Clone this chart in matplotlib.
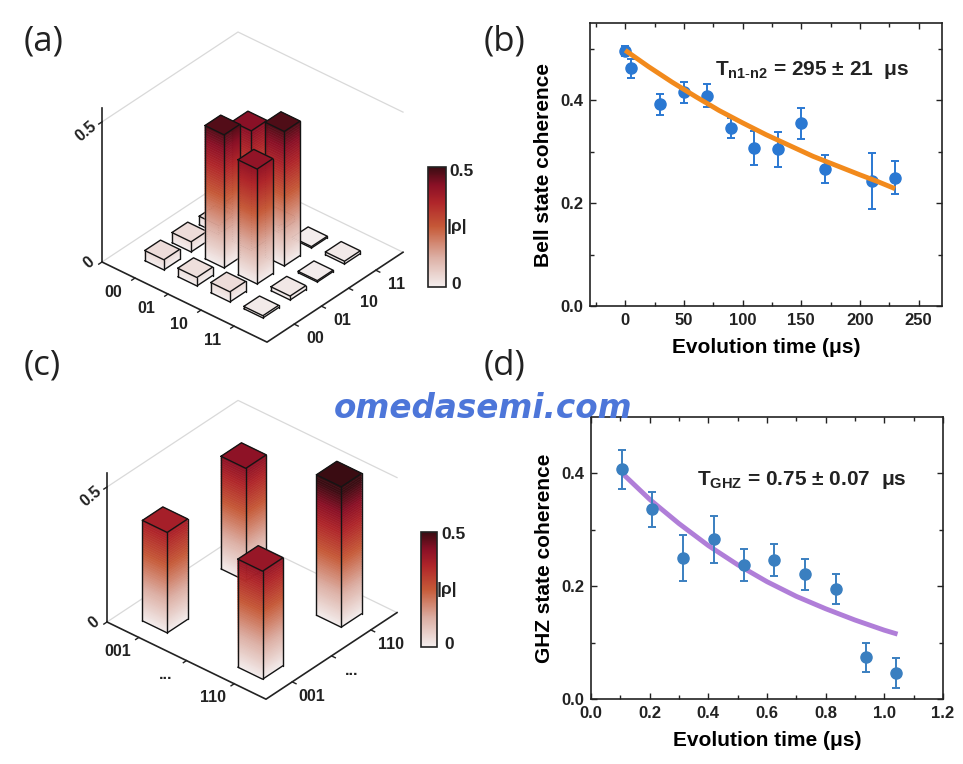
import numpy as np
import matplotlib
matplotlib.use("Agg")
import matplotlib.pyplot as plt
from matplotlib.colors import LinearSegmentedColormap, Normalize
from matplotlib.cm import ScalarMappable
from matplotlib.ticker import FormatStrFormatter
from mpl_toolkits.mplot3d import proj3d
from mpl_toolkits.mplot3d.art3d import Poly3DCollection

plt.rcParams['font.family'] = ['Liberation Sans', 'DejaVu Sans']
plt.rcParams['mathtext.fontset'] = 'custom'
plt.rcParams['mathtext.rm'] = 'Liberation Sans'
plt.rcParams['mathtext.bf'] = 'Liberation Sans:bold'
plt.rcParams['mathtext.it'] = 'Liberation Sans:italic'

W_PX, H_PX = 963, 764

# ---- (a) Bell state density matrix |rho| ----
bell_labels = ['00', '01', '10', '11']
bell_pos = [1, 2, 3, 4]
bell_rho = [
    [0.036, 0.036, 0.030, 0.020],
    [0.030, 0.475, 0.425, 0.020],
    [0.036, 0.410, 0.480, 0.005],
    [0.008, 0.014, 0.005, 0.010],
]

# ---- (c) GHZ state density matrix |rho| (corner elements only) ----
ghz_labels = ['001', '...', '110']
ghz_tick_pos = [1, 2.5, 4]
ghz_pos = [1, 4]
ghz_rho = [
    [0.372, 0.417],
    [0.400, 0.520],
]

# ---- (b) Bell state coherence vs time ----
bell_t = [0, 5, 30, 50, 70, 90, 110, 130, 150, 170, 210, 230]
bell_c = [0.495, 0.462, 0.392, 0.415, 0.409, 0.346, 0.307, 0.305, 0.355, 0.267, 0.243, 0.249]
bell_err = [0.010, 0.018, 0.020, 0.020, 0.022, 0.019, 0.033, 0.034, 0.030, 0.027, 0.055, 0.032]
bell_fit_t = [0, 20, 40, 60, 80, 100, 120, 140, 160, 180, 200, 215, 230]
bell_fit_c = [0.497, 0.465, 0.435, 0.407, 0.380, 0.356, 0.333, 0.312, 0.291, 0.273, 0.255, 0.242, 0.228]

# ---- (d) GHZ state coherence vs time ----
ghz_t = [0.107, 0.209, 0.314, 0.420, 0.523, 0.624, 0.728, 0.834, 0.936, 1.041]
ghz_c = [0.407, 0.336, 0.250, 0.283, 0.238, 0.246, 0.221, 0.195, 0.074, 0.046]
ghz_err = [0.035, 0.031, 0.041, 0.042, 0.028, 0.028, 0.028, 0.026, 0.026, 0.026]
ghz_fit_t = [0.107, 0.2, 0.3, 0.4, 0.5, 0.6, 0.7, 0.8, 0.9, 1.0, 1.045]
ghz_fit_c = [0.400, 0.354, 0.311, 0.272, 0.238, 0.208, 0.182, 0.160, 0.140, 0.122, 0.115]

rho_cmap = LinearSegmentedColormap.from_list('rho', [
    (0.00, '#f4eeee'),
    (0.25, '#dcaea3'),
    (0.50, '#c65a38'),
    (0.70, '#b0262a'),
    (0.85, '#8a1026'),
    (1.00, '#3a0c12'),
])
rho_norm = Normalize(0, 0.5)
INK = '#222222'

fig = plt.figure(figsize=(W_PX / 100, H_PX / 100), dpi=100)


def to_px(ax, x, y, z):
    xs, ys, _ = proj3d.proj_transform(x, y, z, ax.get_proj())
    X, Y = ax.transData.transform((xs, ys))
    return np.array([X, H_PX - Y])


def place_3d(ax, lim, tgt_left, tgt_right):
    """scale / move the square 3d axes so the floor corners land on the targets"""
    tgt_left = np.array(tgt_left, float)
    tgt_right = np.array(tgt_right, float)
    a = to_px(ax, 0, 0, 0)
    b = to_px(ax, lim, lim, 0)
    s = np.hypot(*(tgt_right - tgt_left)) / np.hypot(*(b - a))
    pos = ax.get_position()
    c = np.array([(pos.x0 + pos.width / 2) * W_PX, (1 - pos.y0 - pos.height / 2) * H_PX])
    side = pos.width * W_PX * s
    c_new = tgt_left - s * (a - c)
    ax.set_position([(c_new[0] - side / 2) / W_PX, 1 - (c_new[1] + side / 2) / H_PX,
                     side / W_PX, side / H_PX])


def draw_rho_bars(ax, pos, rho, width):
    heights = np.asarray(rho, dtype=float)
    pos = np.asarray(pos, dtype=float)
    xs, ys = np.meshgrid(pos, pos, indexing='ij')
    az = np.radians(ax.azim)
    depth = xs * np.cos(az) + ys * np.sin(az)
    order = np.argsort(depth, axis=None)
    for k, idx in enumerate(order):
        i, j = np.unravel_index(idx, heights.shape)
        x, y, h = pos[i], pos[j], heights[i, j]
        x0, x1 = x - width / 2, x + width / 2
        y0, y1 = y - width / 2, y + width / 2
        nseg = max(2, int(h / 0.5 * 60))
        zl = np.linspace(0, h, nseg + 1)
        polys, cols = [], []
        for za, zb in zip(zl[:-1], zl[1:]):
            col = rho_cmap(rho_norm((za + zb) / 2))
            polys.append([(x0, y0, za), (x1, y0, za), (x1, y0, zb), (x0, y0, zb)])
            cols.append(col)
            polys.append([(x1, y0, za), (x1, y1, za), (x1, y1, zb), (x1, y0, zb)])
            cols.append(col)
        polys.append([(x0, y0, h), (x1, y0, h), (x1, y1, h), (x0, y1, h)])
        cols.append(rho_cmap(rho_norm(h)))
        pc = Poly3DCollection(polys, facecolors=cols, edgecolors=cols, linewidths=0.4)
        pc.set_zorder(10 + 2 * k)
        ax.add_collection3d(pc)
        edges = [
            ([x0, x1, x1, x0, x0], [y0, y0, y1, y1, y0], [h] * 5),
            ([x0, x0], [y0, y0], [0, h]),
            ([x1, x1], [y0, y0], [0, h]),
            ([x1, x1], [y1, y1], [0, h]),
            ([x0, x1, x1], [y0, y0, y1], [0, 0, 0]),
        ]
        for ex, ey, ez in edges:
            ax.plot(ex, ey, ez, color='#141414', lw=1.0, zorder=11 + 2 * k,
                    solid_capstyle='round', solid_joinstyle='round')


def setup_3d(ax, lim, ztop, tick_pos):
    grey = '#d9d9d9'
    ax.plot([0, 0, lim], [0, lim, lim], [0, 0, 0], color=grey, lw=0.9, zorder=1)
    ax.plot([0, 0, lim], [0, lim, lim], [0.5, 0.5, 0.5], color=grey, lw=0.9, zorder=1)
    ax.plot([0, 0], [0, 0], [0, ztop], color=INK, lw=1.2, zorder=2)
    ax.plot([0, lim, lim], [0, 0, lim], [0, 0, 0], color=INK, lw=1.2, zorder=2)
    for p in tick_pos:
        ax.plot([p, p], [0, -0.12], [0, 0], color=INK, lw=1.0, zorder=2)
        ax.plot([lim, lim + 0.12], [p, p], [0, 0], color=INK, lw=1.0, zorder=2)
    for zt in (0.0, 0.5):
        ax.plot([0, 0], [0, -0.12], [zt, zt], color=INK, lw=1.0, zorder=2)
    ax.set_xlim(0, lim)
    ax.set_ylim(0, lim)
    ax.set_zlim(0, ztop)
    ax.set_box_aspect((1.04, 1.0, 0.895))
    ax.view_init(elev=34.5, azim=-49.4)
    ax.set_axis_off()
    ax.patch.set_alpha(0)


def label_3d(ax, lim, tick_pos, tick_labels):
    """tick labels placed at projected points of the 3d box"""
    for p, lab in zip(tick_pos, tick_labels):
        for xyz in [(p, -0.8, 0), (lim + 0.75, p - 0.15, 0)]:
            X, Y = to_px(ax, *xyz)
            fig.text(X / W_PX, 1 - Y / H_PX, lab, ha='center', va='center',
                     fontsize=11.5, fontweight='bold', color=INK)
    for xyz, lab in [((0, -0.5, 0.03), '0'), ((0, -0.6, 0.505), '0.5')]:
        X, Y = to_px(ax, *xyz)
        fig.text(X / W_PX, 1 - Y / H_PX, lab, ha='center', va='center', rotation=40,
                 rotation_mode='anchor', fontsize=11.5, fontweight='bold', color=INK)


def add_cbar(rect, lab_pos):
    cax = fig.add_axes([rect[0] / W_PX, 1 - rect[3] / H_PX,
                        (rect[2] - rect[0]) / W_PX, (rect[3] - rect[1]) / H_PX])
    cb = fig.colorbar(ScalarMappable(norm=rho_norm, cmap=rho_cmap), cax=cax, ticks=[])
    cb.outline.set_linewidth(1.2)
    cb.outline.set_edgecolor(INK)
    for (tx, ty), s in zip(lab_pos, ['0.5', '|ρ|', '0']):
        cax.text(tx, ty, s, transform=cax.transAxes, ha='left', va='center',
                 fontsize=12.5, fontweight='bold', color=INK)


# ---- panel (a) ----
ax_a = fig.add_axes([20 / W_PX, 1 - 420 / H_PX, 400 / W_PX, 400 / H_PX],
                    projection='3d', computed_zorder=False, proj_type='ortho')
setup_3d(ax_a, 5, 0.55, bell_pos)
draw_rho_bars(ax_a, bell_pos, bell_rho, 0.58)
place_3d(ax_a, 5, (102, 262), (403, 252))
label_3d(ax_a, 5, bell_pos, bell_labels)
add_cbar((428, 167, 446, 287), [(1.2, 0.96), (1.05, 0.5), (1.3, 0.02)])

# ---- panel (c) ----
ax_c = fig.add_axes([20 / W_PX, 1 - 760 / H_PX, 400 / W_PX, 400 / H_PX],
                    projection='3d', computed_zorder=False, proj_type='ortho')
setup_3d(ax_c, 5, 0.55, ghz_tick_pos)
draw_rho_bars(ax_c, ghz_pos, ghz_rho, 0.78)
place_3d(ax_c, 5, (107, 622), (397, 612))
label_3d(ax_c, 5, ghz_tick_pos, ghz_labels)
add_cbar((421, 532, 437, 647), [(1.3, 0.98), (1.0, 0.5), (1.45, 0.02)])


def style_2d(ax):
    for sp in ax.spines.values():
        sp.set_linewidth(1.2)
        sp.set_color(INK)
    ax.tick_params(which='both', direction='in', top=True, right=True, width=1.0,
                   labelsize=12, colors=INK, pad=5)
    ax.tick_params(which='major', length=4)
    ax.tick_params(which='minor', length=3)
    for lab in ax.get_xticklabels() + ax.get_yticklabels():
        lab.set_fontweight('bold')


blue_b = '#2a78d2'
blue_d = '#3a7fc0'

# ---- panel (b) ----
ax_b = fig.add_axes([590 / W_PX, 1 - 306 / H_PX, 352 / W_PX, 283 / H_PX])
ax_b.errorbar(bell_t, bell_c, yerr=bell_err, fmt='o', color=blue_b, ms=8,
              capsize=3, elinewidth=1.4, capthick=1.4, zorder=2)
ax_b.plot(bell_fit_t, bell_fit_c, color='#f28a1c', lw=3.5, zorder=3, solid_capstyle='butt')
ax_b.set_xlim(-30, 270)
ax_b.set_ylim(0, 0.55)
ax_b.set_xticks([0, 50, 100, 150, 200, 250])
ax_b.set_xticks(np.arange(-25, 270, 25), minor=True)
ax_b.set_yticks([0.0, 0.2, 0.4])
ax_b.set_yticks([0.1, 0.3, 0.5], minor=True)
ax_b.yaxis.set_major_formatter(FormatStrFormatter('%.1f'))
ax_b.set_xlabel('Evolution time (μs)', fontsize=15, fontweight='bold', labelpad=7)
ax_b.set_ylabel('Bell state coherence', fontsize=15, fontweight='bold', labelpad=5)
style_2d(ax_b)
ax_b.text(0.355, 0.834, r'T$_{\mathregular{n1\text{-}n2}}$ = 295 ± 21  μs', transform=ax_b.transAxes,
          fontsize=15, fontweight='bold', ha='left', va='center', color=INK)

# ---- panel (d) ----
ax_d = fig.add_axes([591 / W_PX, 1 - 699 / H_PX, 352 / W_PX, 282 / H_PX])
ax_d.plot(ghz_fit_t, ghz_fit_c, color='#b07ed8', lw=3.5, zorder=2, solid_capstyle='butt')
ax_d.errorbar(ghz_t, ghz_c, yerr=ghz_err, fmt='o', color=blue_d, ms=8,
              capsize=3, elinewidth=1.4, capthick=1.4, zorder=3)
ax_d.set_xlim(0, 1.2)
ax_d.set_ylim(0, 0.5)
ax_d.set_xticks(np.arange(0, 1.21, 0.2))
ax_d.set_xticks(np.arange(0.1, 1.2, 0.2), minor=True)
ax_d.set_yticks([0.0, 0.2, 0.4])
ax_d.set_yticks([0.1, 0.3], minor=True)
ax_d.xaxis.set_major_formatter(FormatStrFormatter('%.1f'))
ax_d.yaxis.set_major_formatter(FormatStrFormatter('%.1f'))
ax_d.set_xlabel('Evolution time (μs)', fontsize=15, fontweight='bold', labelpad=7)
ax_d.set_ylabel('GHZ state coherence', fontsize=15, fontweight='bold', labelpad=5)
style_2d(ax_d)
ax_d.text(0.301, 0.777, r'T$_{\mathregular{GHZ}}$ = 0.75 ± 0.07  μs', transform=ax_d.transAxes,
          fontsize=15, fontweight='bold', ha='left', va='center', color=INK)

# ---- panel letters and watermark ----
for s, (px, py) in zip(['(a)', '(b)', '(c)', '(d)'],
                       [(24, 42), (484, 42), (24, 366), (484, 366)]):
    fig.text(px / W_PX, 1 - py / H_PX, s, fontsize=25, family='Open Sans',
             ha='left', va='center', color=INK)

fig.text(483 / W_PX, 1 - 408 / H_PX, 'omedasemi.com', ha='center', va='center',
         fontsize=23.5, fontweight='bold', style='italic', color='#4d76d9',
         family='DejaVu Sans', zorder=50)

fig.savefig('out.png', dpi=100)
